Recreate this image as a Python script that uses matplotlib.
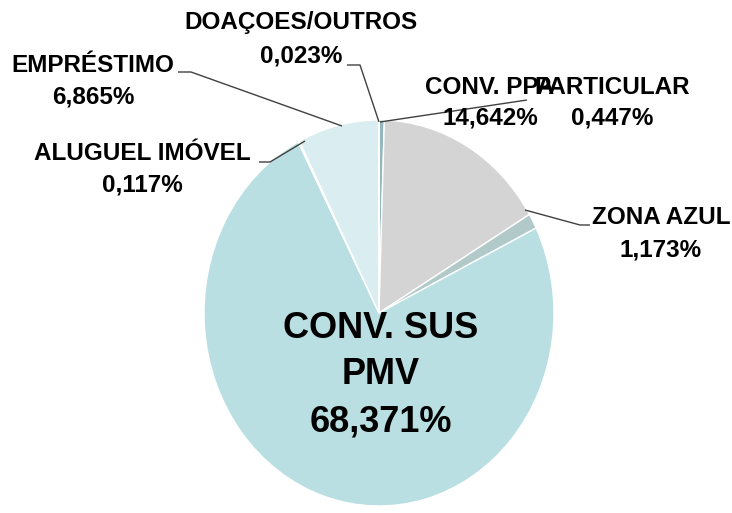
import matplotlib.pyplot as plt

# Data (clockwise from 12 o'clock)
categories = ['PARTICULAR', 'CONV. PPA', 'ZONA AZUL', 'CONV. SUS\nPMV',
              'ALUGUEL IMÓVEL', 'EMPRÉSTIMO', 'DOAÇOES/OUTROS']
values = [0.447, 14.642, 1.173, 68.371, 0.117, 6.865, 0.023]
value_labels = ['0,447%', '14,642%', '1,173%', '68,371%', '0,117%', '6,865%', '0,023%']
colors = ['#93B7BC', '#D4D4D4', '#B2C9CA', '#B9DFE3', '#C9E5E8', '#DAEDF0', '#7FA6AB']

plt.rcParams['font.family'] = ['Liberation Sans', 'DejaVu Sans']

W, H = 732, 513
CX, CY = 379, 313      # pie centre in pixels
RX, RY = 175, 193      # pie radii in pixels (slightly oval)

fig = plt.figure(figsize=(W / 100, H / 100), dpi=100)
ax = fig.add_axes([0, 0, 1, 1])
ax.pie(values, colors=colors, startangle=90, counterclock=False,
       wedgeprops=dict(edgecolor='white', linewidth=1))
ax.set_aspect('auto')
ax.set_xlim(-CX / RX, (W - CX) / RX)
ax.set_ylim((CY - H) / RY, CY / RY)
ax.axis('off')


def P(px, py):
    # pixel position -> data coords
    return (px - CX) / RX, (CY - py) / RY


def label(px, py1, py2, name, val, size=17.5):
    ax.text(*P(px, py1), name, ha='center', va='center', fontsize=size,
            fontweight='bold', color='black')
    ax.text(*P(px, py2), val, ha='center', va='center', fontsize=size,
            fontweight='bold', color='black')


def leader(points):
    xs, ys = zip(*[P(x, y) for x, y in points])
    ax.plot(xs, ys, color='#404040', lw=1, solid_capstyle='butt')


# outside labels
label(301, 23, 56, categories[6], value_labels[6])
label(93, 66, 97, categories[5], value_labels[5])
label(142, 154, 185, categories[4], value_labels[4])
label(490, 87, 118, categories[1], value_labels[1])
label(612, 87, 118, categories[0], value_labels[0])
label(661, 217, 250, categories[2], value_labels[2])

# leader lines
leader([(347, 65), (360, 65), (379, 122)])
leader([(178, 72), (191, 72), (342, 126)])
leader([(259, 162), (270, 162), (305, 141)])
leader([(380, 122), (527, 100)])
leader([(525, 210), (580, 225), (590, 225)])

# big label inside the main slice
ax.text(*P(381, 328), 'CONV. SUS', ha='center', va='center', fontsize=26, fontweight='bold')
ax.text(*P(381, 375), 'PMV', ha='center', va='center', fontsize=26, fontweight='bold')
ax.text(*P(381, 422), value_labels[3], ha='center', va='center', fontsize=26, fontweight='bold')

fig.savefig('out.png', dpi=100)
